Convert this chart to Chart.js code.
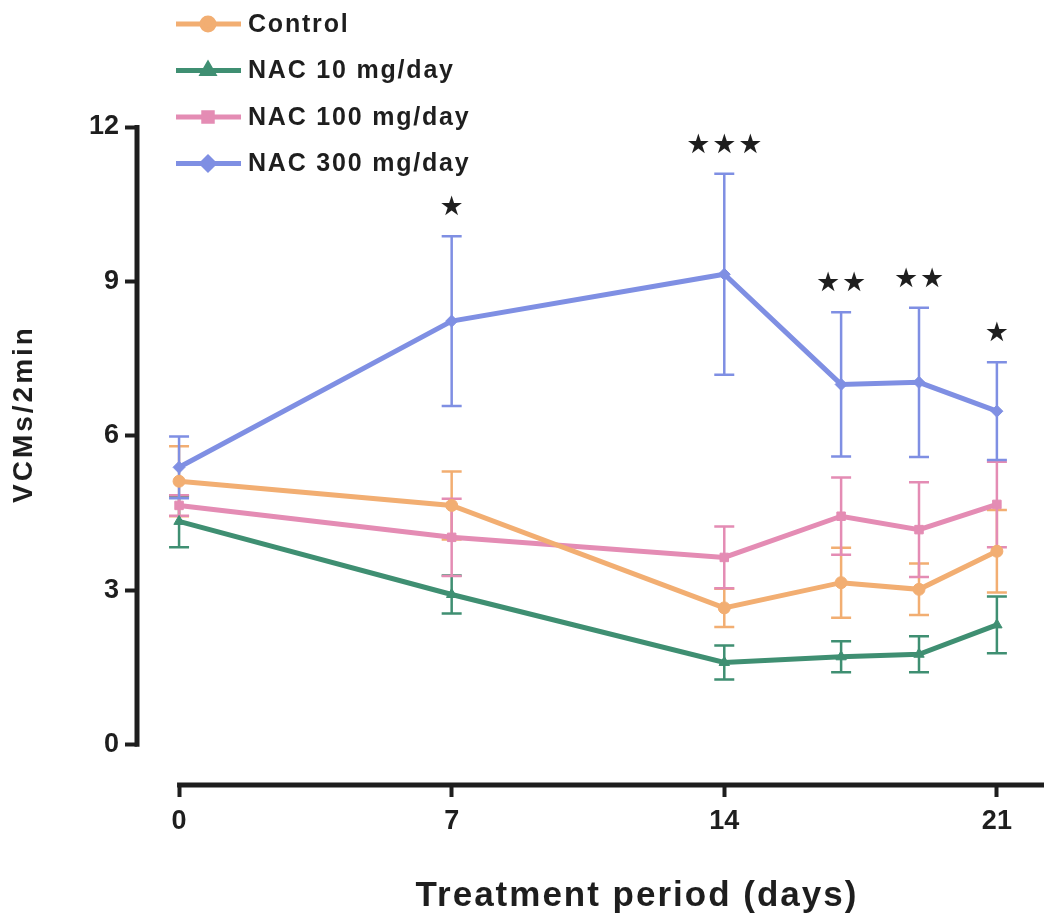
<!DOCTYPE html>
<html>
<head>
<meta charset="utf-8">
<script src="https://cdn.jsdelivr.net/npm/chart.js@4/dist/chart.umd.min.js"></script>
<style>
  body { margin: 0; background: #fff; }
  #wrap { width: 1044px; height: 915px; position: relative; }
</style>
</head>
<body>
<div id="wrap"><canvas id="chart"></canvas></div>
<script>
// data
const days = [0, 7, 14, 17, 19, 21];
const xTicks = [0, 7, 14, 21];
const yTicks = [0, 3, 6, 9, 12];

const control    = [5.12, 4.65, 2.66, 3.15, 3.02, 3.76];
const controlErr = [0.68, 0.66, 0.37, 0.68, 0.50, 0.80];
const nac10      = [4.34, 2.92, 1.60, 1.71, 1.76, 2.33];
const nac10Err   = [0.50, 0.37, 0.33, 0.30, 0.35, 0.55];
const nac100     = [4.65, 4.03, 3.64, 4.44, 4.18, 4.67];
const nac100Err  = [0.20, 0.75, 0.60, 0.75, 0.92, 0.83];
const nac300     = [5.39, 8.23, 9.14, 7.00, 7.04, 6.48];
const nac300Err  = [0.60, 1.65, 1.95, 1.40, 1.45, 0.95];
const signif     = [0, 1, 3, 2, 2, 1]; // number of stars above NAC 300

const COLORS = {
  control: '#F2AE72',
  nac10: '#3F8F72',
  nac100: '#E48CB4',
  nac300: '#7F8FE3'
};
const FONT = '"Liberation Sans", Arial, Helvetica, sans-serif';
const INK = '#1e1e1e';

const mk = (label, vals, errs, color, style) => ({
  label,
  data: vals.map((v, i) => ({ x: days[i], y: v })),
  errors: errs,
  borderColor: color,
  backgroundColor: color,
  borderWidth: 5,
  pointStyle: style,
  pointRadius: 6,
  pointBorderWidth: 1,
  tension: 0
});

const extras = {
  id: 'extras',
  beforeDatasetsDraw(chart) {
    const { ctx, scales: { x, y } } = chart;
    ctx.save();
    chart.data.datasets.forEach(ds => {
      ctx.strokeStyle = ds.borderColor;
      ctx.lineWidth = 2.5;
      ds.data.forEach((p, i) => {
        const e = ds.errors[i];
        const px = x.getPixelForValue(p.x);
        const t = y.getPixelForValue(p.y + e);
        const b = y.getPixelForValue(p.y - e);
        ctx.beginPath();
        ctx.moveTo(px, t); ctx.lineTo(px, b);
        ctx.moveTo(px - 10, t); ctx.lineTo(px + 10, t);
        ctx.moveTo(px - 10, b); ctx.lineTo(px + 10, b);
        ctx.stroke();
      });
    });
    ctx.restore();
  },
  afterDraw(chart) {
    const { ctx, scales: { x, y }, chartArea } = chart;
    ctx.save();
    // detached axis lines
    ctx.strokeStyle = INK;
    ctx.lineWidth = 5;
    ctx.beginPath();
    ctx.moveTo(chartArea.left, y.getPixelForValue(12) - 2);
    ctx.lineTo(chartArea.left, y.getPixelForValue(0) + 2);
    ctx.moveTo(x.getPixelForValue(0) - 2, chartArea.bottom);
    ctx.lineTo(chart.width, chartArea.bottom);
    ctx.stroke();

    // significance stars
    ctx.fillStyle = INK;
    ctx.font = '27px "DejaVu Sans", sans-serif';
    ctx.textAlign = 'center';
    ctx.textBaseline = 'middle';
    signif.forEach((n, i) => {
      if (!n) return;
      const px = x.getPixelForValue(days[i]);
      const py = y.getPixelForValue(nac300[i] + nac300Err[i]) - 28;
      for (let k = 0; k < n; k++) {
        ctx.fillText('\u2605', px + (k - (n - 1) / 2) * 26, py);
      }
    });

    // axis titles
    ctx.font = 'bold 35px ' + FONT;
    ctx.letterSpacing = '2px';
    ctx.textAlign = 'center';
    ctx.textBaseline = 'alphabetic';
    ctx.fillText('Treatment period (days)', 637, 906);

    ctx.save();
    ctx.translate(24, 414);
    ctx.rotate(-Math.PI / 2);
    ctx.font = 'bold 28px ' + FONT;
    ctx.letterSpacing = '3px';
    ctx.textBaseline = 'middle';
    ctx.fillText('VCMs/2min', 0, 0);
    ctx.restore();

    // legend
    chart.data.datasets.forEach((ds, i) => {
      const ly = 24 + i * 46.5;
      ctx.strokeStyle = ds.borderColor;
      ctx.lineWidth = 5;
      ctx.beginPath();
      ctx.moveTo(176, ly); ctx.lineTo(241, ly);
      ctx.stroke();
      ctx.fillStyle = ds.borderColor;
      Chart.helpers.drawPoint(ctx, { pointStyle: ds.pointStyle, radius: 6, rotation: 0, borderWidth: 1 }, 208, ly);
      ctx.fillStyle = INK;
      ctx.font = 'bold 25px ' + FONT;
      ctx.letterSpacing = '1.8px';
      ctx.textAlign = 'left';
      ctx.textBaseline = 'middle';
      ctx.fillText(ds.label, 248, ly + 1);
    });
    ctx.restore();
  }
};

new Chart(document.getElementById('chart'), {
  type: 'line',
  data: {
    datasets: [
      mk('Control', control, controlErr, COLORS.control, 'circle'),
      mk('NAC 10 mg/day', nac10, nac10Err, COLORS.nac10, 'triangle'),
      mk('NAC 100 mg/day', nac100, nac100Err, COLORS.nac100, 'rect'),
      mk('NAC 300 mg/day', nac300, nac300Err, COLORS.nac300, 'rectRot')
    ]
  },
  options: {
    responsive: true,
    maintainAspectRatio: false,
    animation: false,
    layout: { padding: { top: 127, right: 0, left: 0, bottom: 0 } },
    plugins: { legend: { display: false }, tooltip: { enabled: false } },
    scales: {
      x: {
        type: 'linear',
        min: -1.08,
        max: 22.03,
        afterBuildTicks: s => { s.ticks = xTicks.map(v => ({ value: v })); },
        afterFit: s => { s.height = 130; },
        border: { display: false },
        grid: { drawOnChartArea: false, color: INK, tickLength: 12, tickWidth: 4 },
        ticks: { color: INK, padding: 8, autoSkip: false, maxRotation: 0, font: { family: FONT, size: 27, weight: 'bold' } }
      },
      y: {
        min: -0.78,
        max: 12,
        afterBuildTicks: s => { s.ticks = yTicks.map(v => ({ value: v })); },
        afterFit: s => { s.width = 137; },
        border: { display: false },
        grid: { drawOnChartArea: false, color: INK, tickLength: 12, tickWidth: 4 },
        ticks: { color: INK, padding: 6, font: { family: FONT, size: 27, weight: 'bold' } }
      }
    }
  },
  plugins: [extras]
});
</script>
</body>
</html>
